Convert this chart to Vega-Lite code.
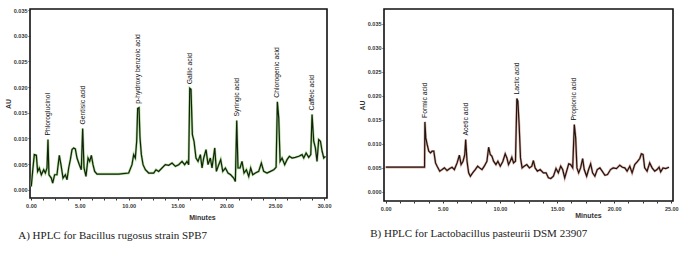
{
  "$schema": "https://vega.github.io/schema/vega-lite/v6.json",
  "padding": {"left": 3, "top": 7, "right": 2, "bottom": 5},
  "background": "white",
  "spacing": 25,
  "datasets": {
    "A": [
      {"t": 0.03, "au": 0.00065}, {"t": 0.17, "au": 0.00358}, {"t": 0.34, "au": 0.00684}, {"t": 0.55, "au": 0.00671},
      {"t": 0.68, "au": 0.00358}, {"t": 0.85, "au": 0.00424}, {"t": 1.06, "au": 0.00293}, {"t": 1.30, "au": 0.00391},
      {"t": 1.47, "au": 0.00326}, {"t": 1.64, "au": 0.00424}, {"t": 1.74, "au": 0.00978}, {"t": 1.84, "au": 0.00293},
      {"t": 2.08, "au": 0.00228}, {"t": 2.22, "au": 0.00130}, {"t": 2.42, "au": 0.00293}, {"t": 2.66, "au": 0.00293},
      {"t": 2.90, "au": 0.00671}, {"t": 3.07, "au": 0.00489}, {"t": 3.28, "au": 0.00228}, {"t": 3.52, "au": 0.00293},
      {"t": 3.69, "au": 0.00196}, {"t": 3.86, "au": 0.00424}, {"t": 4.03, "au": 0.00587}, {"t": 4.20, "au": 0.00782},
      {"t": 4.37, "au": 0.00815}, {"t": 4.54, "au": 0.00795}, {"t": 4.71, "au": 0.00619}, {"t": 4.95, "au": 0.00489},
      {"t": 5.15, "au": 0.00391}, {"t": 5.29, "au": 0.01193}, {"t": 5.43, "au": 0.00424}, {"t": 5.63, "au": 0.00261},
      {"t": 5.84, "au": 0.00619}, {"t": 6.01, "au": 0.00554}, {"t": 6.18, "au": 0.00671}, {"t": 6.35, "au": 0.00489},
      {"t": 6.52, "au": 0.00358}, {"t": 6.76, "au": 0.00306}, {"t": 7.27, "au": 0.00306}, {"t": 8.98, "au": 0.00306},
      {"t": 10.00, "au": 0.00326}, {"t": 10.34, "au": 0.00489}, {"t": 10.51, "au": 0.00684}, {"t": 10.68, "au": 0.00619},
      {"t": 10.82, "au": 0.00945}, {"t": 10.92, "au": 0.01584}, {"t": 11.06, "au": 0.01597}, {"t": 11.16, "au": 0.01010},
      {"t": 11.30, "au": 0.00684}, {"t": 11.47, "au": 0.00489}, {"t": 11.71, "au": 0.00391}, {"t": 12.05, "au": 0.00326},
      {"t": 12.56, "au": 0.00326}, {"t": 12.80, "au": 0.00391}, {"t": 13.07, "au": 0.00358}, {"t": 13.41, "au": 0.00424},
      {"t": 13.75, "au": 0.00489}, {"t": 14.10, "au": 0.00476}, {"t": 14.44, "au": 0.00521}, {"t": 14.78, "au": 0.00456},
      {"t": 15.12, "au": 0.00489}, {"t": 15.46, "au": 0.00554}, {"t": 15.73, "au": 0.00489}, {"t": 15.97, "au": 0.00554},
      {"t": 16.14, "au": 0.00489}, {"t": 16.25, "au": 0.01975}, {"t": 16.38, "au": 0.01955}, {"t": 16.52, "au": 0.01075},
      {"t": 16.69, "au": 0.00945}, {"t": 16.89, "au": 0.00619}, {"t": 17.10, "au": 0.00554}, {"t": 17.34, "au": 0.00684},
      {"t": 17.51, "au": 0.00424}, {"t": 17.68, "au": 0.00619}, {"t": 17.92, "au": 0.00782}, {"t": 18.12, "au": 0.00489},
      {"t": 18.36, "au": 0.00619}, {"t": 18.53, "au": 0.00424}, {"t": 18.81, "au": 0.00815}, {"t": 18.98, "au": 0.00358},
      {"t": 19.22, "au": 0.00489}, {"t": 19.42, "au": 0.00587}, {"t": 19.63, "au": 0.00358}, {"t": 19.90, "au": 0.00424},
      {"t": 20.17, "au": 0.00326}, {"t": 20.44, "au": 0.00293}, {"t": 20.75, "au": 0.00228}, {"t": 20.92, "au": 0.00163},
      {"t": 21.06, "au": 0.01349}, {"t": 21.19, "au": 0.00424}, {"t": 21.40, "au": 0.00424}, {"t": 21.60, "au": 0.00554},
      {"t": 21.81, "au": 0.00326}, {"t": 22.05, "au": 0.00391}, {"t": 22.29, "au": 0.00261}, {"t": 22.49, "au": 0.00424},
      {"t": 22.70, "au": 0.00293}, {"t": 22.97, "au": 0.00326}, {"t": 23.31, "au": 0.00358}, {"t": 23.58, "au": 0.00521},
      {"t": 23.82, "au": 0.00358}, {"t": 24.16, "au": 0.00326}, {"t": 24.51, "au": 0.00358}, {"t": 24.85, "au": 0.00391},
      {"t": 25.09, "au": 0.00437}, {"t": 25.22, "au": 0.01714}, {"t": 25.36, "au": 0.01401}, {"t": 25.50, "au": 0.00554},
      {"t": 25.70, "au": 0.00619}, {"t": 25.97, "au": 0.00489}, {"t": 26.21, "au": 0.00587}, {"t": 26.45, "au": 0.00652},
      {"t": 26.72, "au": 0.00619}, {"t": 27.06, "au": 0.00632}, {"t": 27.41, "au": 0.00652}, {"t": 27.75, "au": 0.00684},
      {"t": 27.92, "au": 0.00619}, {"t": 28.16, "au": 0.00717}, {"t": 28.43, "au": 0.00632}, {"t": 28.64, "au": 0.00684},
      {"t": 28.77, "au": 0.01467}, {"t": 28.94, "au": 0.00945}, {"t": 29.11, "au": 0.00815}, {"t": 29.28, "au": 0.00554},
      {"t": 29.45, "au": 0.00978}, {"t": 29.63, "au": 0.00945}, {"t": 29.80, "au": 0.00750}, {"t": 29.97, "au": 0.00619},
      {"t": 30.14, "au": 0.00652}
    ],
    "Alab": [
      {"t": 1.74, "au": 0.00978, "name": "Phloroglucinol"},
      {"t": 5.29, "au": 0.01193, "name": "Gentisic acid"},
      {"t": 11.0, "au": 0.01597, "name": "p-hydroxy benzoic acid"},
      {"t": 16.3, "au": 0.01975, "name": "Gallic acid"},
      {"t": 21.06, "au": 0.01349, "name": "Syringic acid"},
      {"t": 25.22, "au": 0.01714, "name": "Chlorogenic acid"},
      {"t": 28.77, "au": 0.01467, "name": "Caffeic acid"}
    ],
    "B": [
      {"t": 0.0, "au": 0.00514}, {"t": 3.34, "au": 0.00514}, {"t": 3.40, "au": 0.00514}, {"t": 3.43, "au": 0.01458},
      {"t": 3.51, "au": 0.01125}, {"t": 3.63, "au": 0.00986}, {"t": 3.77, "au": 0.00847}, {"t": 3.92, "au": 0.00812},
      {"t": 4.06, "au": 0.00847}, {"t": 4.21, "au": 0.00847}, {"t": 4.36, "au": 0.00604}, {"t": 4.50, "au": 0.00535},
      {"t": 4.73, "au": 0.00431}, {"t": 4.94, "au": 0.00465}, {"t": 5.14, "au": 0.00500}, {"t": 5.37, "au": 0.00444},
      {"t": 5.61, "au": 0.00486}, {"t": 5.81, "au": 0.00514}, {"t": 6.01, "au": 0.00465}, {"t": 6.25, "au": 0.00604},
      {"t": 6.45, "au": 0.00764}, {"t": 6.60, "au": 0.00569}, {"t": 6.77, "au": 0.00639}, {"t": 6.92, "au": 0.00778},
      {"t": 7.00, "au": 0.01090}, {"t": 7.12, "au": 0.00639}, {"t": 7.26, "au": 0.00396}, {"t": 7.41, "au": 0.00326},
      {"t": 7.61, "au": 0.00396}, {"t": 7.84, "au": 0.00465}, {"t": 8.05, "au": 0.00535}, {"t": 8.22, "au": 0.00500},
      {"t": 8.43, "au": 0.00465}, {"t": 8.63, "au": 0.00535}, {"t": 8.86, "au": 0.00639}, {"t": 9.01, "au": 0.00930},
      {"t": 9.15, "au": 0.00778}, {"t": 9.30, "au": 0.00743}, {"t": 9.44, "au": 0.00639}, {"t": 9.65, "au": 0.00569},
      {"t": 9.82, "au": 0.00639}, {"t": 10.03, "au": 0.00535}, {"t": 10.26, "au": 0.00639}, {"t": 10.46, "au": 0.00792},
      {"t": 10.61, "au": 0.00708}, {"t": 10.75, "au": 0.00569}, {"t": 10.90, "au": 0.00639}, {"t": 11.04, "au": 0.00722},
      {"t": 11.19, "au": 0.00604}, {"t": 11.36, "au": 0.00639}, {"t": 11.48, "au": 0.01944}, {"t": 11.57, "au": 0.01889},
      {"t": 11.68, "au": 0.01403}, {"t": 11.80, "au": 0.00708}, {"t": 11.94, "au": 0.00500}, {"t": 12.12, "au": 0.00535},
      {"t": 12.35, "au": 0.00569}, {"t": 12.58, "au": 0.00500}, {"t": 12.79, "au": 0.00535}, {"t": 12.93, "au": 0.00653},
      {"t": 13.08, "au": 0.00500}, {"t": 13.28, "au": 0.00431}, {"t": 13.52, "au": 0.00465}, {"t": 13.80, "au": 0.00396},
      {"t": 14.04, "au": 0.00396}, {"t": 14.24, "au": 0.00292}, {"t": 14.45, "au": 0.00278}, {"t": 14.68, "au": 0.00326},
      {"t": 14.91, "au": 0.00486}, {"t": 15.11, "au": 0.00396}, {"t": 15.32, "au": 0.00535}, {"t": 15.49, "au": 0.00465},
      {"t": 15.67, "au": 0.00292}, {"t": 15.84, "au": 0.00431}, {"t": 16.02, "au": 0.00583}, {"t": 16.19, "au": 0.00569},
      {"t": 16.37, "au": 0.00500}, {"t": 16.51, "au": 0.01403}, {"t": 16.63, "au": 0.01125}, {"t": 16.74, "au": 0.00500},
      {"t": 16.89, "au": 0.00396}, {"t": 17.06, "au": 0.00500}, {"t": 17.24, "au": 0.00694}, {"t": 17.38, "au": 0.00465},
      {"t": 17.59, "au": 0.00326}, {"t": 17.76, "au": 0.00465}, {"t": 17.94, "au": 0.00583}, {"t": 18.11, "au": 0.00396},
      {"t": 18.31, "au": 0.00326}, {"t": 18.52, "au": 0.00465}, {"t": 18.75, "au": 0.00500}, {"t": 18.95, "au": 0.00431},
      {"t": 19.19, "au": 0.00347}, {"t": 19.42, "au": 0.00361}, {"t": 19.68, "au": 0.00465}, {"t": 19.91, "au": 0.00500},
      {"t": 20.20, "au": 0.00486}, {"t": 20.49, "au": 0.00556}, {"t": 20.72, "au": 0.00514}, {"t": 20.93, "au": 0.00500},
      {"t": 21.13, "au": 0.00431}, {"t": 21.37, "au": 0.00535}, {"t": 21.57, "au": 0.00396}, {"t": 21.80, "au": 0.00569},
      {"t": 22.01, "au": 0.00625}, {"t": 22.24, "au": 0.00694}, {"t": 22.38, "au": 0.00792}, {"t": 22.53, "au": 0.00778},
      {"t": 22.67, "au": 0.00500}, {"t": 22.88, "au": 0.00431}, {"t": 23.11, "au": 0.00604}, {"t": 23.32, "au": 0.00500},
      {"t": 23.55, "au": 0.00431}, {"t": 23.75, "au": 0.00465}, {"t": 23.93, "au": 0.00514}, {"t": 24.07, "au": 0.00417},
      {"t": 24.28, "au": 0.00500}, {"t": 24.51, "au": 0.00486}, {"t": 24.80, "au": 0.00514}
    ],
    "Blab": [
      {"t": 3.43, "au": 0.01458, "name": "Formic acid"},
      {"t": 7.0, "au": 0.01090, "name": "Acetic acid"},
      {"t": 11.5, "au": 0.01944, "name": "Lactic acid"},
      {"t": 16.51, "au": 0.01403, "name": "Propionic acid"}
    ]
  },
  "hconcat": [
    {
      "width": 297,
      "height": 189,
      "title": {"text": "A) HPLC for Bacillus rugosus strain SPB7", "orient": "bottom", "anchor": "start", "frame": "bounds", "dx": 14, "offset": 10, "font": "Liberation Serif", "fontSize": 11, "fontWeight": "normal", "color": "#222222"},
      "encoding": {
        "x": {"field": "t", "type": "quantitative", "scale": {"domain": [-0.1, 30.3], "nice": false, "zero": false},
          "axis": {"title": "Minutes", "values": [0, 1.25, 2.5, 3.75, 5, 6.25, 7.5, 8.75, 10, 11.25, 12.5, 13.75, 15, 16.25, 17.5, 18.75, 20, 21.25, 22.5, 23.75, 25, 26.25, 27.5, 28.75, 30],
            "labelExpr": "datum.value % 5 === 0 ? format(datum.value, '.2f') : ''", "titleX": 172, "titleY": 15, "titleBaseline": "top"}},
        "y": {"field": "au", "type": "quantitative", "scale": {"domain": [-0.0016, 0.0352], "nice": false, "zero": false},
          "axis": {"title": "AU", "values": [0, 0.005, 0.01, 0.015, 0.02, 0.025, 0.03, 0.035], "format": ".3f", "labelOverlap": false}}
      },
      "layer": [
        {
          "data": {"name": "A"},
          "mark": {"type": "line", "color": "#8fcf6a", "strokeWidth": 2.4, "opacity": 0.8}
        },
        {
          "data": {"name": "A"},
          "mark": {"type": "line", "color": "#142014", "strokeWidth": 1.2}
        },
        {
          "data": {"name": "Alab"},
          "mark": {"type": "text", "angle": 270, "align": "left", "baseline": "middle", "dx": 4, "font": "Liberation Sans", "fontSize": 6.8, "color": "#111111"},
          "encoding": {"text": {"field": "name"}}
        }
      ]
    },
    {
      "width": 289,
      "height": 192,
      "title": {"text": "B) HPLC for Lactobacillus pasteurii DSM 23907", "orient": "bottom", "anchor": "start", "frame": "bounds", "dx": 12, "offset": 10, "font": "Liberation Serif", "fontSize": 11, "fontWeight": "normal", "color": "#222222"},
      "encoding": {
        "x": {"field": "t", "type": "quantitative", "scale": {"domain": [-0.15, 25.15], "nice": false, "zero": false},
          "axis": {"title": "Minutes", "values": [0, 1.25, 2.5, 3.75, 5, 6.25, 7.5, 8.75, 10, 11.25, 12.5, 13.75, 15, 16.25, 17.5, 18.75, 20, 21.25, 22.5, 23.75, 25],
            "labelExpr": "datum.value % 5 === 0 ? format(datum.value, '.2f') : ''", "titleX": 204, "titleY": 10, "titleBaseline": "top"}},
        "y": {"field": "au", "type": "quantitative", "scale": {"domain": [-0.0019, 0.0381], "nice": false, "zero": false},
          "axis": {"title": "AU", "values": [0, 0.005, 0.01, 0.015, 0.02, 0.025, 0.03, 0.035], "format": ".3f", "labelOverlap": false}}
      },
      "layer": [
        {
          "data": {"name": "B"},
          "mark": {"type": "line", "color": "#d49a8a", "strokeWidth": 2.4, "opacity": 0.8}
        },
        {
          "data": {"name": "B"},
          "mark": {"type": "line", "color": "#1e1412", "strokeWidth": 1.2}
        },
        {
          "data": {"name": "Blab"},
          "mark": {"type": "text", "angle": 270, "align": "left", "baseline": "middle", "dx": 4, "font": "Liberation Sans", "fontSize": 6.8, "color": "#111111"},
          "encoding": {"text": {"field": "name"}}
        }
      ]
    }
  ],
  "config": {
    "view": {"stroke": "#111111", "strokeWidth": 1.6},
    "axis": {
      "grid": false,
      "domain": false,
      "ticks": true,
      "tickSize": 2,
      "tickColor": "#333333",
      "labelFont": "Liberation Sans",
      "labelFontSize": 5.5,
      "labelFontWeight": "bold",
      "labelColor": "#333333",
      "labelPadding": 1,
      "labelOverlap": false,
      "titleFont": "Liberation Sans",
      "titleFontSize": 7,
      "titleFontWeight": "bold",
      "titleColor": "#333333",
      "titlePadding": 2
    },
    "axisX": {"labelPadding": 3, "labelFlush": false, "titlePadding": 2}
  }
}
